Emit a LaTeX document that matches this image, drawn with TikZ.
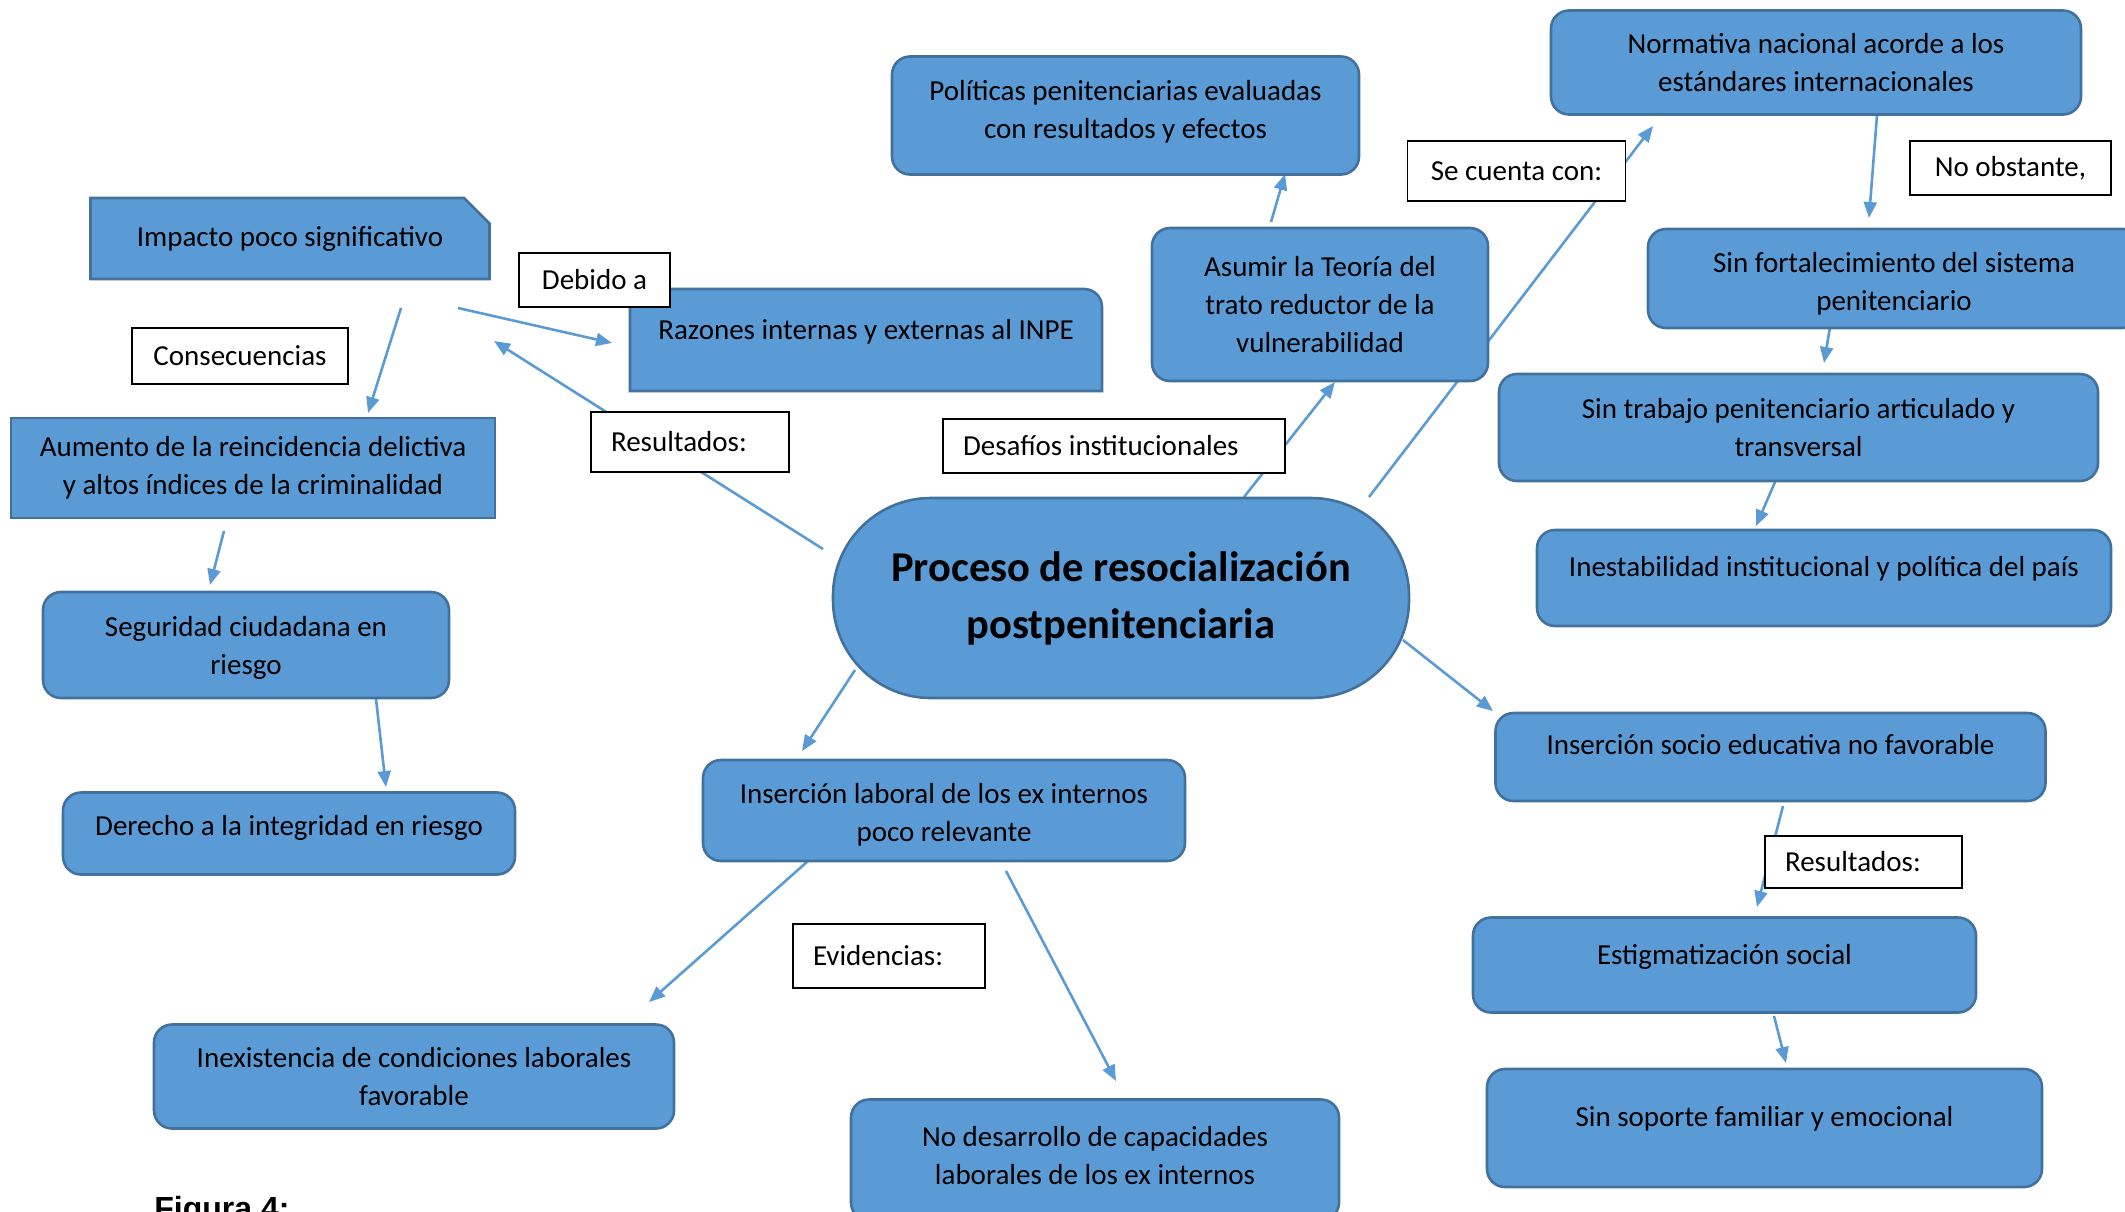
\documentclass[tikz,border=0pt]{standalone}
\usepackage{fontspec}
\setmainfont{Carlito}
\newfontfamily\figfont{Liberation Sans}
\usetikzlibrary{arrows.meta,shapes.misc}
\definecolor{boxc}{HTML}{5B9BD5}
\definecolor{bordc}{HTML}{41719C}
\definecolor{linec}{HTML}{5B9BD5}
\newcommand{\lefttext}[2]{\makebox[#1][l]{#2}}
\begin{document}
\begin{tikzpicture}[x=0.5pt,y=-0.5pt,
  bx/.style={draw=bordc, fill=boxc, line width=1.3pt, rounded corners=9pt, align=center, inner sep=0pt, font=\fontsize{14.5}{19}\selectfont},
  lb/.style={draw=black, fill=white, line width=0.85pt, inner sep=0pt, font=\fontsize{14.5}{19}\selectfont},
  lbl/.style={lb, inner xsep=10pt},
  con/.style={draw=linec, line width=1.3pt, -{Triangle[length=8pt,width=6.5pt]}},
  up/.style={text height=10pt, text depth=#1},
]
\useasboundingbox (0,0) rectangle (2125,1211);
\clip (0,0) rectangle (2125,1211);

% connector end points
\coordinate (a1s) at (1271,222);  \coordinate (a1e) at (1285,174);
\coordinate (a2s) at (1369,497);  \coordinate (a2e) at (1653,126);
\coordinate (a3s) at (1244,497);  \coordinate (a3e) at (1335,382);
\coordinate (a4s) at (1877,115);  \coordinate (a4e) at (1869,218);
\coordinate (a5s) at (1830,327);  \coordinate (a5e) at (1824,363);
\coordinate (a6s) at (1775,482);  \coordinate (a6e) at (1756,526);
\coordinate (a7s) at (1403,640);  \coordinate (a7e) at (1493,711);
\coordinate (a8s) at (1783,806);  \coordinate (a8e) at (1757,907);
\coordinate (a9s) at (1774,1016); \coordinate (a9e) at (1786,1063);
\coordinate (b1s) at (855,670);   \coordinate (b1e) at (802,751);
\coordinate (b2s) at (808,861);   \coordinate (b2e) at (649,1002);
\coordinate (b3s) at (1006,871);  \coordinate (b3e) at (1116,1081);
\coordinate (b4s) at (823,549);   \coordinate (b4e) at (494,341);
\coordinate (b5s) at (458,308);   \coordinate (b5e) at (612,343);
\coordinate (b6s) at (401,308);   \coordinate (b6e) at (368,413);
\coordinate (b7s) at (224,531);   \coordinate (b7e) at (210,585);
\coordinate (b8s) at (376,699);   \coordinate (b8e) at (386,787);

\draw[con] (a1s) -- (a1e);
\draw[con] (a2s) -- (a2e);
\draw[con] (a3s) -- (a3e);
\draw[con] (a4s) -- (a4e);
\draw[con] (a5s) -- (a5e);
\draw[con] (a6s) -- (a6e);
\draw[con] (a7s) -- (a7e);
\draw[con] (a8s) -- (a8e);
\draw[con] (a9s) -- (a9e);
\draw[con] (b1s) -- (b1e);
\draw[con] (b2s) -- (b2e);
\draw[con] (b3s) -- (b3e);
\draw[con] (b4s) -- (b4e);
\draw[con] (b5s) -- (b5e);
\draw[con] (b6s) -- (b6e);
\draw[con] (b7s) -- (b7e);
\draw[con] (b8s) -- (b8e);

% blue boxes
\node[bx, minimum width=233.5pt, minimum height=59pt, text height=30pt, text depth=7pt] (pol) at (1125.5,115.5) {Políticas penitenciarias evaluadas\\con resultados y efectos};
\node[bx, minimum width=265pt, minimum height=52pt] (nor) at (1816,62.5) {Normativa nacional acorde a los\\estándares internacionales};
\node[bx, minimum width=168pt, minimum height=76.5pt] (asu) at (1320,304.5) {Asumir la Teoría del\\trato reductor de la\\vulnerabilidad};
\node[bx, minimum width=246pt, minimum height=49.5pt, text height=35pt, text depth=3pt] (sfo) at (1894,278.5) {Sin fortalecimiento del sistema\\penitenciario};
\node[bx, minimum width=299.5pt, minimum height=53.5pt] (stb) at (1798.5,427.5) {Sin trabajo penitenciario articulado y\\transversal};
\node[bx, minimum width=287pt, minimum height=48pt, up=11.5pt] (ine) at (1824,578) {Inestabilidad institucional y política del país};
\node[bx, minimum width=288pt, minimum height=100pt, rounded corners=49pt, font=\bfseries\fontsize{21.25}{28.5}\selectfont] (cen) at (1121,598) {Proceso de resocialización\\postpenitenciaria};
\node[bx, sharp corners, chamfered rectangle, chamfered rectangle corners=north east, chamfered rectangle xsep=6.5pt, chamfered rectangle ysep=6.5pt, minimum width=199.5pt, minimum height=40.5pt] (imp) at (290,238.5) {Impacto poco significativo};
\draw[draw=bordc, fill=boxc, line width=1.3pt] (630,391) -- (630,289) -- (1084,289) .. controls (1094,289) and (1102,297) .. (1102,307) -- (1102,391) -- cycle;
\node[font=\fontsize{14.5}{19}\selectfont, inner sep=0pt, up=11pt] (raz) at (866,340) {Razones internas y externas al INPE};
\node[bx, sharp corners, minimum width=242pt, minimum height=50pt] (aum) at (253,468) {Aumento de la reincidencia delictiva\\y altos índices de la criminalidad};
\node[bx, minimum width=203pt, minimum height=53pt, text height=32pt, text depth=3pt] (seg) at (246,645) {Seguridad ciudadana en\\riesgo};
\node[bx, minimum width=226pt, minimum height=41pt, up=8pt] (der) at (289,833.5) {Derecho a la integridad en riesgo};
\node[bx, minimum width=241pt, minimum height=50.5pt, text height=34pt, text depth=3pt] (inl) at (944,810.5) {Inserción laboral de los ex internos\\poco relevante};
\node[bx, minimum width=260pt, minimum height=52pt] (inx) at (414,1076.5) {Inexistencia de condiciones laborales\\favorable};
\node[bx, minimum width=244pt, minimum height=60.5pt, text height=29.5pt, text depth=5.5pt] (nod) at (1095,1160) {No desarrollo de capacidades\\laborales de los ex internos};
\node[bx, minimum width=275pt, minimum height=44pt, up=12.5pt] (ise) at (1770.5,757) {Inserción socio educativa no favorable};
\node[bx, minimum width=251.5pt, minimum height=47.5pt, up=11pt] (est) at (1724.5,965) {Estigmatización social};
\node[bx, minimum width=277.5pt, minimum height=59pt, up=11.5pt] (sop) at (1764.5,1128) {Sin soporte familiar y emocional};

% white labels
\node[lb, minimum width=109pt, minimum height=30pt] (lsc) at (1516.5,171) {Se cuenta con:};
\node[lb, minimum width=100.5pt, minimum height=27pt] (lno) at (2010.5,168) {No obstante,};
\node[lb, minimum width=75.5pt, minimum height=27pt] (lde) at (594.5,280) {Debido a};
\node[lb, minimum width=108pt, minimum height=28pt] (lco) at (240,356) {Consecuencias};
\node[lbl, minimum height=30pt] (lr1) at (690,442) {\lefttext{79pt}{Resultados:}};
\node[lbl, minimum height=27pt] (lds) at (1114,446) {\lefttext{151pt}{Desafíos institucionales}};
\node[lbl, minimum height=32pt] (lev) at (889,956) {\lefttext{76pt}{Evidencias:}};
\node[lbl, minimum height=26pt] (lr2) at (1863.5,862) {\lefttext{78.5pt}{Resultados:}};

\node[anchor=base west, inner sep=0pt, font=\figfont\bfseries\fontsize{16}{19}\selectfont] (fig) at (154,1219) {Figura 4:};
\end{tikzpicture}
\end{document}
